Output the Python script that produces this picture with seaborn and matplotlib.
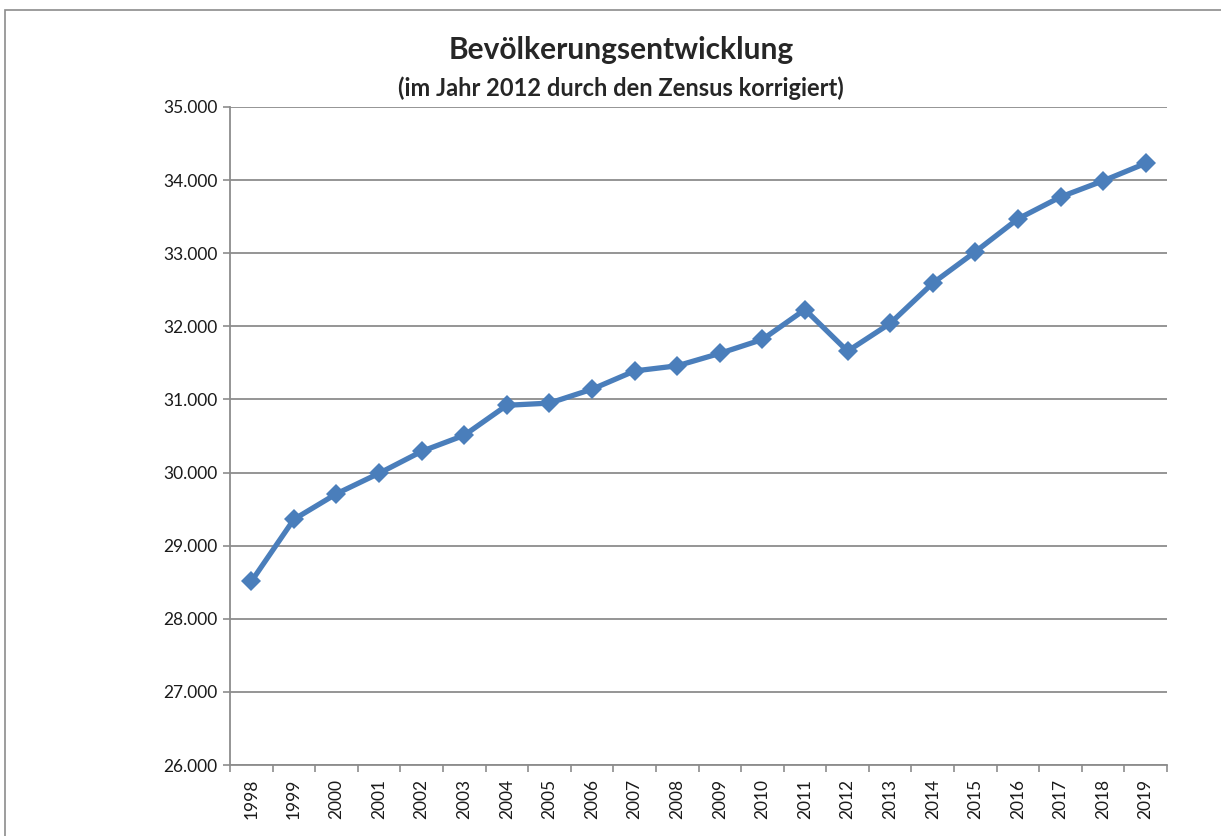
import numpy as np
import pandas as pd
import matplotlib
matplotlib.use("Agg")
import matplotlib.pyplot as plt
import matplotlib.ticker as mticker
from matplotlib.patches import Rectangle
import seaborn as sns

# ------------------------------------------------------------------ #
jahre = [str(j) for j in range(1998, 2020)]
einwohner = [28510, 29360, 29710, 29990, 30290, 30510, 30920, 30950,
             31140, 31390, 31460, 31630, 31820, 32230, 31660, 32040,
             32590, 33020, 33470, 33770, 33990, 34230]
y_ticks = [26000, 27000, 28000, 29000, 30000, 31000, 32000, 33000, 34000, 35000]
titel = "Bevölkerungsentwicklung"
untertitel = "(im Jahr 2012 durch den Zensus korrigiert)"
# ------------------------------------------------------------------ #

sns.set_style("white")
plt.rcParams["font.family"] = ["Lato", "DejaVu Sans"]

df = pd.DataFrame({"Jahr": jahre, "Einwohner": einwohner})

fig = plt.figure(figsize=(12.21, 8.36), dpi=100)
ax = fig.add_axes([230 / 1221, 71 / 836, 937 / 1221, 658 / 836])

# Rahmen um das Diagramm
fig.patches.append(Rectangle((5 / 1221, -0.05), 1.2, 0.05 + 826 / 836,
                             transform=fig.transFigure, fill=False,
                             edgecolor="#8c8c8c", linewidth=1.2))

sns.lineplot(data=df, x="Jahr", y="Einwohner", ax=ax, color="#4a7ebb",
             linewidth=3.8, marker="D", markersize=10.5, markeredgewidth=0,
             zorder=3)

ax.set_xlim(-0.5, len(jahre) - 0.5)
ax.set_ylim(26000, 35000)
ax.set_yticks(y_ticks)
ax.yaxis.set_major_formatter(
    mticker.FuncFormatter(lambda v, p: f"{v:,.0f}".replace(",", ".")))
ax.grid(axis="y", color="#8c8c8c", linewidth=1.3)
ax.set_axisbelow(True)

# Striche zwischen den Kategorien wie in Excel
ax.set_xticks(np.arange(len(jahre)))
ax.set_xticklabels(jahre, rotation=90)
ax.xaxis.set_minor_locator(mticker.FixedLocator(np.arange(-0.5, len(jahre), 1)))
ax.tick_params(axis="x", which="major", length=0, pad=10, labelsize=12.5,
               labelcolor="#1a1a1a")
ax.tick_params(axis="x", which="minor", length=5, width=1.2, color="#8c8c8c",
               bottom=True)
ax.tick_params(axis="y", length=5, width=1.2, color="#8c8c8c", left=True,
               labelsize=12.5, labelcolor="#1a1a1a", pad=4)

for side in ["top", "right"]:
    ax.spines[side].set_visible(False)
for side in ["left", "bottom"]:
    ax.spines[side].set_color("#8c8c8c")
    ax.spines[side].set_linewidth(1.3)

ax.set_xlabel("")
ax.set_ylabel("")

fig.text(621 / 1221, 1 - 50 / 836, titel, ha="center", va="center",
         fontsize=21.5, fontweight="bold")
fig.text(621 / 1221, 1 - 88 / 836, untertitel, ha="center", va="center",
         fontsize=17, fontweight="bold")

fig.savefig("out.png", dpi=100)
